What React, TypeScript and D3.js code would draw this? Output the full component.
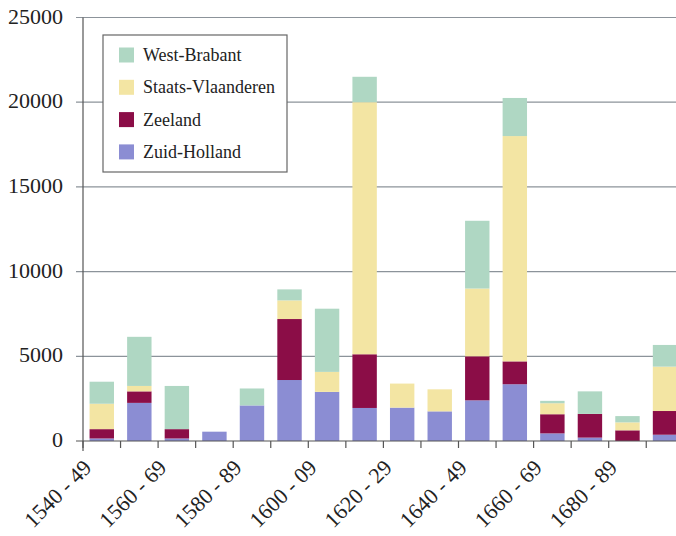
import React, { useEffect, useRef } from "react";
import * as d3 from "d3";

const decades = [
  "1540 - 49", "1550 - 59", "1560 - 69", "1570 - 79",
  "1580 - 89", "1590 - 99", "1600 - 09", "1610 - 19",
  "1620 - 29", "1630 - 39", "1640 - 49", "1650 - 59",
  "1660 - 69", "1670 - 79", "1680 - 89", "1690 - 99",
];

// bottom of the stack first
const zuidHolland = [150, 2250, 150, 550, 2100, 3600, 2900, 1950, 1970, 1750, 2400, 3350, 450, 200, 0, 370];
const zeeland = [550, 680, 550, 0, 0, 3600, 0, 3170, 0, 0, 2600, 1350, 1130, 1400, 630, 1400];
const staatsVlaanderen = [1500, 320, 0, 0, 0, 1100, 1180, 14880, 1420, 1300, 4000, 13300, 650, 0, 470, 2620];
const westBrabant = [1300, 2900, 2550, 0, 1000, 650, 3730, 1500, 0, 0, 4000, 2250, 140, 1330, 370, 1280];

const seriesNames = ["Zuid-Holland", "Zeeland", "Staats-Vlaanderen", "West-Brabant"];
const seriesColors = ["#8b8dd3", "#8b0d47", "#f3e5a3", "#afd7c3"];
const yTicks = [0, 5000, 10000, 15000, 20000, 25000];

const W = 676;
const H = 536;
const FONT = "'Liberation Serif', 'DejaVu Serif', serif";

export default function App() {
  const ref = useRef<SVGSVGElement>(null);

  useEffect(() => {
    const svg = d3.select(ref.current);
    svg.selectAll("*").remove();

    const left = 83;
    const step = 37.55;
    const y = d3.scaleLinear().domain([0, 25000]).range([441, 17.5]);
    const x = d3.scaleBand<string>()
      .domain(decades)
      .range([left, left + step * decades.length])
      .paddingInner(0.35)
      .paddingOuter(0.175);

    const rows = decades.map((d, i) => ({
      decade: d,
      "Zuid-Holland": zuidHolland[i],
      "Zeeland": zeeland[i],
      "Staats-Vlaanderen": staatsVlaanderen[i],
      "West-Brabant": westBrabant[i],
    }));
    const stacked = d3.stack<any>().keys(seriesNames)(rows);

    // grid
    svg.append("g")
      .selectAll("line")
      .data(yTicks.filter(t => t > 0))
      .join("line")
        .attr("x1", left - 7)
        .attr("x2", W)
        .attr("y1", d => y(d))
        .attr("y2", d => y(d))
        .attr("stroke", "#8c939a")
        .attr("stroke-width", 1.2);

    // bars
    svg.append("g")
      .selectAll("g")
      .data(stacked)
      .join("g")
        .attr("fill", (d, i) => seriesColors[i])
      .selectAll("rect")
      .data(d => d.filter(p => p[1] - p[0] > 0))
      .join("rect")
        .attr("x", d => x(d.data.decade)!)
        .attr("width", x.bandwidth())
        .attr("y", d => y(d[1]))
        .attr("height", d => y(d[0]) - y(d[1]));

    // axes
    const axis = svg.append("g").attr("stroke", "#555").attr("stroke-width", 1.2);
    axis.append("line")
      .attr("x1", left).attr("x2", left)
      .attr("y1", y(25000)).attr("y2", 451);
    axis.append("line")
      .attr("x1", left - 7).attr("x2", W)
      .attr("y1", y(0)).attr("y2", y(0));
    axis.selectAll(".xt")
      .data(decades)
      .join("line")
        .attr("class", "xt")
        .attr("x1", (d, i) => left + i * step)
        .attr("x2", (d, i) => left + i * step)
        .attr("y1", y(0))
        .attr("y2", y(0) + 7);

    svg.append("g")
      .selectAll("text")
      .data(yTicks)
      .join("text")
        .attr("x", 63)
        .attr("y", d => y(d) + 6)
        .attr("text-anchor", "end")
        .attr("font-family", FONT)
        .attr("font-size", 22)
        .attr("fill", "#222")
        .text(d => d);

    svg.append("g")
      .selectAll("text")
      .data(decades.filter((d, i) => i % 2 === 0))
      .join("text")
        .attr("transform", d => `translate(${x(d)! + x.bandwidth() / 2 - 9},${y(0) + 28}) rotate(-45)`)
        .attr("text-anchor", "end")
        .attr("font-family", FONT)
        .attr("font-size", 22)
        .attr("fill", "#222")
        .text(d => d);

    // legend
    const lg = svg.append("g").attr("transform", "translate(103,35)");
    lg.append("rect")
      .attr("width", 184).attr("height", 137)
      .attr("fill", "#fff").attr("stroke", "#666").attr("stroke-width", 1.2);
    const order = [3, 2, 1, 0];
    const item = lg.selectAll("g")
      .data(order)
      .join("g")
        .attr("transform", (d, i) => `translate(16,${20 + i * 32.3})`);
    item.append("rect")
      .attr("y", -7.5).attr("width", 15).attr("height", 15)
      .attr("fill", d => seriesColors[d]);
    item.append("text")
      .attr("x", 24).attr("y", 6)
      .attr("font-family", FONT)
      .attr("font-size", 18)
      .attr("fill", "#222")
      .text(d => seriesNames[d]);
  }, []);

  return (
    <svg
      ref={ref}
      width={W}
      height={H}
      style={{ position: "absolute", left: 0, top: 0, background: "#fff" }}
    />
  );
}
